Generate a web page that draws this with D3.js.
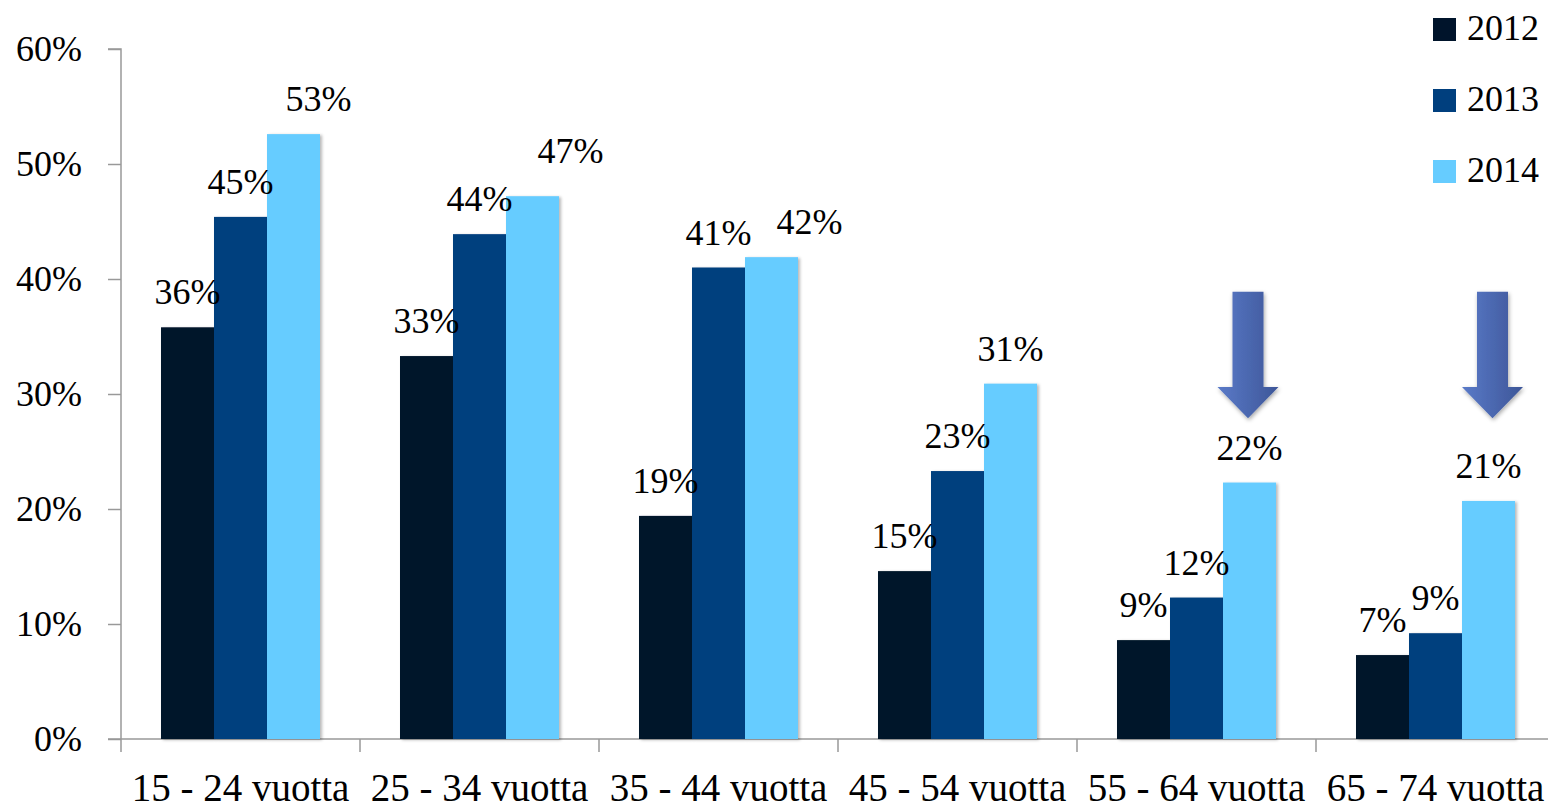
<!DOCTYPE html>
<html>
<head>
<meta charset="utf-8">
<script src="https://cdn.jsdelivr.net/npm/d3@7"></script>
<style>
  html, body { margin: 0; padding: 0; background: #ffffff; overflow: hidden; }
  svg { display: block; }
  text { font-family: "Liberation Serif", "DejaVu Serif", serif; fill: #000; }
</style>
</head>
<body>
<svg id="chart" width="1548" height="807"></svg>
<script>
// Age groups and yearly shares (%)
const categories = ["15 - 24 vuotta", "25 - 34 vuotta", "35 - 44 vuotta", "45 - 54 vuotta", "55 - 64 vuotta", "65 - 74 vuotta"];
const years = ["2012", "2013", "2014"];
const values2012 = [35.8, 33.3, 19.4, 14.6, 8.6, 7.3];
const values2013 = [45.4, 43.9, 41.0, 23.3, 12.3, 9.2];
const values2014 = [52.6, 47.2, 41.9, 30.9, 22.3, 20.7];
const yTicks = [0, 10, 20, 30, 40, 50, 60];
const yearColors = ["#00142b", "#003f7e", "#66ccff"];
// Groups highlighted with a downward arrow above the 2014 bar
const arrowGroups = ["55 - 64 vuotta", "65 - 74 vuotta"];

const seriesByYear = [values2012, values2013, values2014];
const rows = [];
categories.forEach((c, i) => {
  years.forEach((y, j) => rows.push({ category: c, year: y, value: seriesByYear[j][i] }));
});

const svg = d3.select("#chart");
const defs = svg.append("defs");

const shadow = defs.append("filter").attr("id", "barShadow")
  .attr("x", "-20%").attr("y", "-5%").attr("width", "150%").attr("height", "115%");
shadow.append("feDropShadow").attr("dx", 2).attr("dy", 1).attr("stdDeviation", 1.6)
  .attr("flood-color", "#000").attr("flood-opacity", 0.28);

const arrowGrad = defs.append("linearGradient").attr("id", "arrowGrad")
  .attr("x1", "0%").attr("x2", "100%").attr("y1", "0%").attr("y2", "0%");
arrowGrad.append("stop").attr("offset", "0%").attr("stop-color", "#5a7ac8");
arrowGrad.append("stop").attr("offset", "100%").attr("stop-color", "#3d5698");

const arrowShadow = defs.append("filter").attr("id", "arrowShadow")
  .attr("x", "-30%").attr("y", "-10%").attr("width", "160%").attr("height", "130%");
arrowShadow.append("feDropShadow").attr("dx", 1).attr("dy", 2).attr("stdDeviation", 2)
  .attr("flood-color", "#000").attr("flood-opacity", 0.35);

const left = 121, bandW = 239, zeroY = 739, topY = 49;

const x0 = d3.scaleBand().domain(categories).range([left, left + bandW * categories.length]).padding(0);
const x1 = d3.scaleBand().domain(years).range([40, bandW - 40]).padding(0);
const y = d3.scaleLinear().domain([0, 60]).range([zeroY, topY]);
const color = d3.scaleOrdinal().domain(years).range(yearColors);

// Y axis
const yAxis = svg.append("g").attr("transform", `translate(${left},0)`)
  .call(d3.axisLeft(y).tickValues(yTicks).tickFormat(d => d + "%").tickSize(13).tickPadding(26));
yAxis.select(".domain").attr("stroke", "#999").attr("stroke-width", 1.5).attr("d", `M-13,${topY}H0V${zeroY}`);
yAxis.selectAll(".tick line").attr("stroke", "#999").attr("stroke-width", 1.5);
yAxis.selectAll(".tick text").attr("font-size", 36).attr("font-family", "Liberation Serif").attr("fill", "#000");

// X axis baseline and category separators
const xAxisG = svg.append("g");
xAxisG.append("line").attr("x1", left - 13).attr("x2", 1548).attr("y1", zeroY).attr("y2", zeroY)
  .attr("stroke", "#999").attr("stroke-width", 1.5);
xAxisG.selectAll("line.sep").data(categories).join("line").attr("class", "sep")
  .attr("x1", d => x0(d)).attr("x2", d => x0(d))
  .attr("y1", zeroY).attr("y2", zeroY + 13)
  .attr("stroke", "#999").attr("stroke-width", 1.5);
xAxisG.selectAll("text.cat").data(categories).join("text").attr("class", "cat")
  .attr("x", d => x0(d) + x0.bandwidth() / 2).attr("y", 801)
  .attr("text-anchor", "middle").attr("font-size", 39).text(d => d);

// Bars
svg.append("g").selectAll("rect").data(rows).join("rect")
  .attr("x", d => x0(d.category) + x1(d.year))
  .attr("y", d => y(d.value))
  .attr("width", x1.bandwidth())
  .attr("height", d => y(0) - y(d.value))
  .attr("fill", d => color(d.year))
  .attr("filter", "url(#barShadow)");

// Value labels; a few are nudged sideways so they clear the neighbouring label
const labelNudge = {
  "15 - 24 vuotta|2014": [25, 0],
  "25 - 34 vuotta|2014": [38, -10],
  "35 - 44 vuotta|2014": [38, 0]
};
const fmt = v => Math.round(v) + "%";
svg.append("g").selectAll("text").data(rows).join("text")
  .attr("x", d => x0(d.category) + x1(d.year) + x1.bandwidth() / 2 + (labelNudge[d.category + "|" + d.year] || [0, 0])[0])
  .attr("y", d => y(d.value) - 23 + (labelNudge[d.category + "|" + d.year] || [0, 0])[1])
  .attr("text-anchor", "middle").attr("font-size", 36)
  .text(d => fmt(d.value));

// Downward arrows (shaft from 38.9% down to tip at 27.9%)
const arrowTop = 38.9, arrowNeck = 30.6, arrowTip = 27.9;
const arrowOffsets = { "55 - 64 vuotta": -1.5, "65 - 74 vuotta": 4 };
const shaftHalf = 15.5, headHalf = 30.5;
svg.append("g").selectAll("path").data(arrowGroups).join("path")
  .attr("d", g => {
    const cx = x0(g) + x1("2014") + x1.bandwidth() / 2 + arrowOffsets[g];
    return `M${cx - shaftHalf},${y(arrowTop)}H${cx + shaftHalf}V${y(arrowNeck)}H${cx + headHalf}` +
      `L${cx},${y(arrowTip)}L${cx - headHalf},${y(arrowNeck)}H${cx - shaftHalf}Z`;
  })
  .attr("fill", "url(#arrowGrad)")
  .attr("filter", "url(#arrowShadow)");

// Legend
const legend = svg.append("g").selectAll("g").data(years).join("g")
  .attr("transform", (d, i) => `translate(1433,${18 + i * 71})`);
legend.append("rect").attr("width", 23).attr("height", 23).attr("fill", d => color(d));
legend.append("text").attr("x", 34).attr("y", 22).attr("font-size", 36).text(d => d);
</script>
</body>
</html>
